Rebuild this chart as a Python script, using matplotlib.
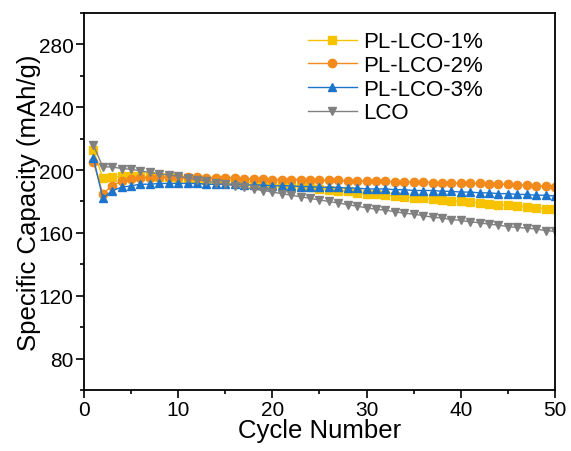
import matplotlib.pyplot as plt
from matplotlib.ticker import MultipleLocator

plt.rcParams['font.family'] = ['Liberation Sans', 'DejaVu Sans']

cycles = list(range(1, 51))

pl_lco_1 = [213, 195, 195.5, 196, 196, 196, 196, 195.5, 195.5, 195,
            195, 194.5, 194, 194, 193.5, 193, 192.5, 192, 191.5, 191,
            190.5, 190, 189.5, 189, 188, 187.5, 187, 186.5, 185.5, 185,
            184.5, 184, 183.5, 183, 182.5, 182, 181.5, 181, 180.5, 180,
            179.5, 179, 178.5, 178, 177.5, 177, 176.5, 176, 175.5, 175]

pl_lco_2 = [205, 185, 190, 193, 194.5, 195, 195, 195.5, 195.5, 195.5,
            195.5, 195.5, 195, 195, 195, 195, 194.5, 194.5, 194.5, 194,
            194, 194, 194, 193.5, 193.5, 193.5, 193.5, 193, 193, 193,
            193, 193, 192.5, 192.5, 192.5, 192.5, 192, 192, 192, 191.5,
            191.5, 191.5, 191, 191, 191, 190.5, 190.5, 190, 190, 189.5]

pl_lco_3 = [208, 182, 187, 189, 190, 191, 191, 191.5, 191.5, 191.5,
            191.5, 191.5, 191, 191, 191, 191, 190.5, 190.5, 190.5, 190,
            190, 190, 189.5, 189.5, 189, 189, 189, 188.5, 188.5, 188,
            188, 188, 187.5, 187.5, 187, 187, 187, 186.5, 186.5, 186,
            186, 185.5, 185.5, 185, 185, 184.5, 184.5, 184, 184, 183.5]

lco = [216, 202, 202, 201, 200.5, 199.5, 198.5, 197.5, 197, 196,
       195, 194, 193, 192, 191, 190, 189, 188, 187, 186,
       185, 184, 183, 182, 181, 180, 179, 178, 177, 176,
       175, 174.5, 173.5, 172.5, 172, 171, 170, 169.5, 168.5, 168,
       167, 166.5, 165.5, 165, 164, 163.5, 163, 162.5, 161.5, 161]

fig = plt.figure(figsize=(5.71, 4.52), dpi=100)
ax = fig.add_axes([0.147, 0.135, 0.825, 0.834])

ms = 6
ax.plot(cycles, pl_lco_1, color='#F7C300', marker='s', ms=ms, lw=1, label='PL-LCO-1%')
ax.plot(cycles, pl_lco_2, color='#F28A1C', marker='o', ms=ms, lw=1, label='PL-LCO-2%')
ax.plot(cycles, pl_lco_3, color='#1C74CC', marker='^', ms=ms, lw=1, label='PL-LCO-3%')
ax.plot(cycles, lco, color='#808080', marker='v', ms=ms, lw=1, label='LCO')

ax.set_xlim(0, 50)
ax.set_ylim(60, 300)
ax.xaxis.set_major_locator(MultipleLocator(10))
ax.xaxis.set_minor_locator(MultipleLocator(5))
ax.yaxis.set_major_locator(MultipleLocator(40))
ax.yaxis.set_minor_locator(MultipleLocator(20))
ax.set_yticks([80, 120, 160, 200, 240, 280])
ax.tick_params(which='major', length=5.5, width=1.2, labelsize=15, direction='out', pad=2)
ax.tick_params(which='minor', length=3, width=1.2, direction='out')
for s in ax.spines.values():
    s.set_linewidth(1.3)

ax.set_xlabel('Cycle Number', fontsize=18.5, labelpad=-1)
ax.set_ylabel('Specific Capacity (mAh/g)', fontsize=18.5, labelpad=-2)

ax.legend(loc='upper left', bbox_to_anchor=(0.456, 0.975), frameon=False,
          fontsize=16, handlelength=2.2, handletextpad=0.3, labelspacing=0.12,
          borderaxespad=0)

fig.savefig('out.png', dpi=100)
